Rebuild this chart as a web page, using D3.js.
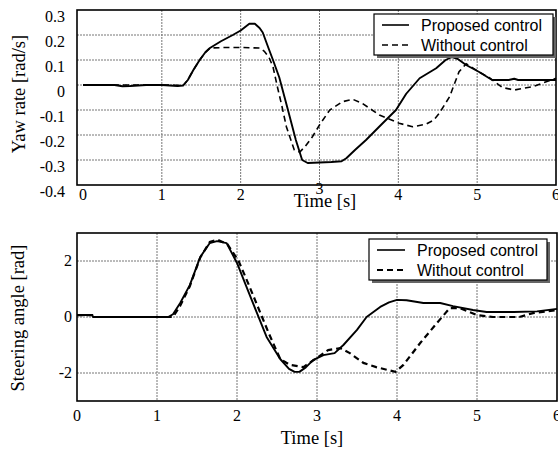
<!DOCTYPE html>
<html>
<head>
<meta charset="utf-8">
<script src="https://cdn.jsdelivr.net/npm/d3@7"></script>
<style>
  body { margin: 0; background: #fff; }
  svg { display: block; }
</style>
</head>
<body>
<div id="chart"></div>
<script>
// yaw rate [rad/s], top panel
const yawTimeProposed = [0, 0.4, 0.5, 0.6, 0.8, 1.0, 1.2, 1.27, 1.33, 1.4, 1.48, 1.55, 1.61, 1.75, 1.9, 2.0, 2.11, 2.18, 2.24, 2.28, 2.35, 2.41, 2.49, 2.6, 2.7, 2.78, 2.85, 3.0, 3.15, 3.28, 3.34, 3.45, 3.59, 3.76, 3.97, 4.1, 4.27, 4.48, 4.6, 4.68, 4.75, 4.86, 5.02, 5.19, 5.4, 5.47, 5.52, 6.0];
const yawProposed = [0, 0, -0.005, -0.004, 0, 0, -0.004, -0.002, 0.02, 0.06, 0.1, 0.13, 0.148, 0.175, 0.2, 0.218, 0.245, 0.245, 0.228, 0.21, 0.15, 0.1, 0.03, -0.1, -0.22, -0.3, -0.312, -0.31, -0.308, -0.305, -0.293, -0.26, -0.22, -0.166, -0.1, -0.035, 0.027, 0.067, 0.1, 0.112, 0.105, 0.08, 0.053, 0.02, 0.02, 0.025, 0.02, 0.02];
const yawTimeWithout = [0, 1.0, 1.27, 1.33, 1.4, 1.48, 1.55, 1.61, 1.8, 2.0, 2.24, 2.3, 2.36, 2.41, 2.47, 2.52, 2.58, 2.68, 2.75, 2.82, 2.91, 3.0, 3.13, 3.29, 3.42, 3.54, 3.76, 4.01, 4.18, 4.35, 4.45, 4.52, 4.65, 4.77, 4.86, 5.02, 5.15, 5.32, 5.47, 5.7, 6.0];
const yawWithout = [0, 0, -0.002, 0.02, 0.06, 0.1, 0.13, 0.148, 0.15, 0.15, 0.148, 0.135, 0.11, 0.073, -0.013, -0.08, -0.167, -0.26, -0.268, -0.245, -0.207, -0.16, -0.1, -0.067, -0.057, -0.073, -0.12, -0.153, -0.167, -0.157, -0.14, -0.113, -0.047, 0.053, 0.085, 0.053, 0.03, -0.01, -0.02, -0.007, 0.027];

// steering angle [rad], bottom panel
const steerTimeProposed = [0, 0.19, 0.2, 1.14, 1.2, 1.29, 1.41, 1.54, 1.66, 1.75, 1.87, 2.0, 2.12, 2.25, 2.37, 2.54, 2.65, 2.72, 2.78, 2.86, 2.95, 3.08, 3.22, 3.33, 3.5, 3.62, 3.79, 3.9, 4.0, 4.12, 4.33, 4.54, 4.7, 4.95, 5.12, 5.46, 5.75, 6.0];
const steerProposed = [0.07, 0.07, 0, 0, 0.1, 0.5, 1.14, 2.14, 2.64, 2.71, 2.64, 1.93, 1.07, 0.14, -0.71, -1.5, -1.85, -1.96, -1.96, -1.8, -1.54, -1.36, -1.29, -1.0, -0.46, 0, 0.36, 0.52, 0.61, 0.6, 0.5, 0.5, 0.39, 0.25, 0.18, 0.18, 0.2, 0.29];
const steerTimeWithout = [0, 0.19, 0.2, 1.2, 1.29, 1.41, 1.54, 1.66, 1.76, 1.88, 2.02, 2.14, 2.27, 2.4, 2.54, 2.66, 2.83, 3.0, 3.14, 3.29, 3.41, 3.58, 3.74, 3.98, 4.08, 4.29, 4.5, 4.66, 4.78, 5.0, 5.2, 5.53, 5.7, 6.0];
const steerWithout = [0.07, 0.07, 0, 0, 0.4, 1.1, 2.12, 2.68, 2.76, 2.6, 2.0, 1.2, 0.3, -0.6, -1.5, -1.71, -1.79, -1.46, -1.18, -1.11, -1.29, -1.64, -1.79, -1.96, -1.71, -0.93, -0.21, 0.32, 0.32, 0.07, 0, 0, 0.14, 0.25];

const timeTicks = [0, 1, 2, 3, 4, 5, 6];
const yawTicks = [0.3, 0.2, 0.1, 0, -0.1, -0.2, -0.3, -0.4];
const yawTickLabels = ['0.3', '0.2', '0.1', '0', '-0.1', '-0.2', '-0.3', '-0.4'];
const steerTicks = [2, 0, -2];
const seriesNames = ['Proposed control', 'Without control'];

const width = 558, height = 450;
const serif = '"Liberation Serif", "Times New Roman", serif';
const sans = '"Liberation Sans", Arial, sans-serif';

const svg = d3.select('#chart').append('svg')
  .attr('width', width).attr('height', height);

function zip(ts, vs) { return ts.map((t, i) => [t, vs[i]]); }

function panel(opt) {
  const x = d3.scaleLinear().domain([0, 6]).range(opt.xRange);
  const y = d3.scaleLinear().domain(opt.yDomain).range(opt.yRange);
  const g = svg.append('g');
  const left = opt.frameLeft, right = x(6);
  const top = y(opt.yDomain[1]), bottom = y(opt.yDomain[0]);

  // grid
  g.selectAll('.gx').data(timeTicks.slice(1, 6)).join('line')
    .attr('x1', d => x(d)).attr('x2', d => x(d))
    .attr('y1', top).attr('y2', bottom)
    .attr('stroke', '#777').attr('stroke-width', 1).attr('stroke-dasharray', '2,1');
  g.selectAll('.gy').data(opt.gridY).join('line')
    .attr('x1', left).attr('x2', right)
    .attr('y1', d => y(d)).attr('y2', d => y(d))
    .attr('stroke', '#777').attr('stroke-width', 1).attr('stroke-dasharray', '2,1');

  // frame
  g.append('rect')
    .attr('x', left).attr('y', top)
    .attr('width', right - left).attr('height', bottom - top)
    .attr('fill', 'none').attr('stroke', '#000').attr('stroke-width', 1.6);

  // tick labels
  g.selectAll('.yl').data(opt.yTicks).join('text')
    .attr('x', opt.yLabelX).attr('y', d => y(d) + opt.yLabelDy)
    .attr('text-anchor', 'end')
    .attr('font-family', serif).attr('font-size', 16)
    .text((d, i) => opt.yTickLabels[i]);
  g.selectAll('.xl').data(timeTicks).join('text')
    .attr('x', d => x(d)).attr('y', d => opt.xLabelY + (opt.raised === d ? -6 : 0))
    .attr('text-anchor', 'middle')
    .attr('font-family', serif).attr('font-size', 16)
    .text(d => d);

  g.append('text')
    .attr('x', opt.titleX).attr('y', opt.titleY)
    .attr('text-anchor', 'middle')
    .attr('font-family', serif).attr('font-size', 18.5)
    .text('Time [s]');
  g.append('text')
    .attr('transform', `translate(${opt.yTitleX},${opt.yTitleY}) rotate(-90)`)
    .attr('text-anchor', 'middle')
    .attr('font-family', serif).attr('font-size', 18.5)
    .text(opt.yTitle);

  // lines
  const line = d3.line().x(d => x(d[0])).y(d => y(d[1]));
  g.append('path').datum(opt.without)
    .attr('d', line).attr('fill', 'none').attr('stroke', '#000')
    .attr('stroke-width', opt.dashWidth).attr('stroke-dasharray', '6,4');
  g.append('path').datum(opt.proposed)
    .attr('d', line).attr('fill', 'none').attr('stroke', '#000')
    .attr('stroke-width', 1.9).attr('stroke-linejoin', 'round');

  // legend
  const L = opt.legend;
  g.append('rect')
    .attr('x', L.x + 3).attr('y', L.y + 3).attr('width', L.w).attr('height', L.h)
    .attr('fill', '#666');
  g.append('rect')
    .attr('x', L.x).attr('y', L.y).attr('width', L.w).attr('height', L.h)
    .attr('fill', '#fff').attr('stroke', '#000').attr('stroke-width', 1.2);
  seriesNames.forEach((name, i) => {
    const ry = L.rows[i];
    g.append('line')
      .attr('x1', L.lx1).attr('x2', L.lx2).attr('y1', ry).attr('y2', ry)
      .attr('stroke', '#000')
      .attr('stroke-width', i === 0 ? 1.6 : opt.dashWidth)
      .attr('stroke-dasharray', i === 0 ? null : '6,4');
    g.append('text')
      .attr('x', L.tx).attr('y', ry + 5.5)
      .attr('font-family', sans).attr('font-size', 16)
      .text(name);
  });
}

panel({
  xRange: [83, 556], yDomain: [-0.4, 0.3], yRange: [185, 10], frameLeft: 77,
  gridY: [0.2, 0.1, 0, -0.1, -0.2, -0.3],
  yTicks: yawTicks, yTickLabels: yawTickLabels, yLabelX: 65, yLabelDy: 12,
  xLabelY: 200, raised: 3, titleX: 325, titleY: 207,
  yTitle: 'Yaw rate [rad/s]', yTitleX: 25, yTitleY: 94,
  proposed: zip(yawTimeProposed, yawProposed),
  without: zip(yawTimeWithout, yawWithout),
  dashWidth: 1.6,
  legend: { x: 374, y: 14, w: 179, h: 41, rows: [25, 45], lx1: 382, lx2: 409, tx: 421 }
});

panel({
  xRange: [77, 557], yDomain: [-3, 3], yRange: [401, 233], frameLeft: 77,
  gridY: [2, 0, -2],
  yTicks: steerTicks, yTickLabels: steerTicks.map(String), yLabelX: 72, yLabelDy: 5,
  xLabelY: 421, titleX: 312, titleY: 444,
  yTitle: 'Steering angle [rad]', yTitleX: 24, yTitleY: 318,
  proposed: zip(steerTimeProposed, steerProposed),
  without: zip(steerTimeWithout, steerWithout),
  dashWidth: 2.2,
  legend: { x: 369, y: 239, w: 178, h: 41, rows: [250, 270], lx1: 377, lx2: 405, tx: 417 }
});
</script>
</body>
</html>
